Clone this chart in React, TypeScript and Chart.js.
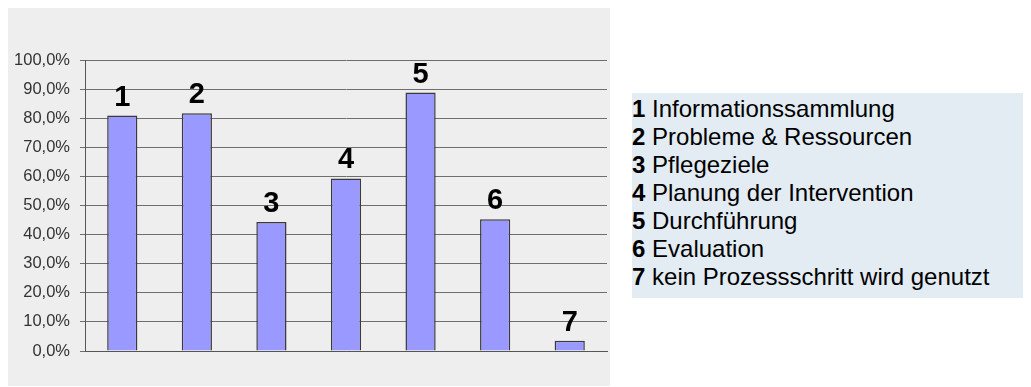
import React, { useEffect, useRef } from "react";
import { Chart, registerables } from "chart.js";

Chart.register(...registerables);

const categories = ["1", "2", "3", "4", "5", "6", "7"];
const categoryNames = [
  "Informationssammlung",
  "Probleme & Ressourcen",
  "Pflegeziele",
  "Planung der Intervention",
  "Durchführung",
  "Evaluation",
  "kein Prozessschritt wird genutzt",
];
const values = [80.9, 81.7, 44.3, 59.3, 88.8, 45.3, 3.5];
const tickLabels = [
  "0,0%", "10,0%", "20,0%", "30,0%", "40,0%", "50,0%",
  "60,0%", "70,0%", "80,0%", "90,0%", "100,0%",
];

const FONT = '"Liberation Sans", Arial, Helvetica, sans-serif';

const barLabelPlugin = {
  id: "barLabels",
  afterDatasetsDraw(chart: any) {
    const ctx = chart.ctx;
    const meta = chart.getDatasetMeta(0);
    ctx.save();
    ctx.font = `bold 29px ${FONT}`;
    ctx.fillStyle = "#000000";
    ctx.textAlign = "center";
    ctx.textBaseline = "alphabetic";
    meta.data.forEach((bar: any, i: number) => {
      ctx.fillText(categories[i], bar.x, bar.y - 10);
    });
    ctx.restore();
  },
};

export default function App() {
  const canvasRef = useRef<HTMLCanvasElement | null>(null);

  useEffect(() => {
    if (!canvasRef.current) return;
    const chart = new Chart(canvasRef.current, {
      type: "bar",
      data: {
        labels: categories,
        datasets: [
          {
            data: values,
            backgroundColor: "#9999ff",
            borderColor: "#3a3a3a",
            borderWidth: 1.5,
            barPercentage: 0.405,
            categoryPercentage: 1.0,
          },
        ],
      },
      options: {
        animation: false,
        responsive: true,
        maintainAspectRatio: false,
        layout: { padding: { top: 52, bottom: 35, left: 0, right: 3 } },
        plugins: {
          legend: { display: false },
          tooltip: { enabled: false },
          title: { display: false },
        },
        scales: {
          x: {
            grid: { display: false, drawTicks: false },
            ticks: { display: false },
            border: { display: true, color: "#555555", width: 1 },
          },
          y: {
            min: 0,
            max: 100,
            afterFit(scale: any) {
              scale.width = 77;
            },
            ticks: {
              stepSize: 10,
              padding: 10,
              color: "#333333",
              font: { family: FONT, size: 16.5 },
              callback: (_v: any, index: number) => tickLabels[index],
            },
            grid: {
              color: "#6e6e6e",
              lineWidth: 1,
              drawTicks: true,
              tickLength: 5,
            },
            border: { display: true, color: "#555555", width: 1 },
          },
        },
      },
      plugins: [barLabelPlugin],
    });
    return () => chart.destroy();
  }, []);

  return (
    <div style={{ position: "relative", width: 1023, height: 379 }}>
      <div
        style={{
          position: "absolute",
          left: 0,
          top: 0,
          width: 602,
          height: 378,
          background: "#eeeeee",
        }}
      >
        <canvas ref={canvasRef} />
      </div>
      <div
        style={{
          position: "absolute",
          left: 624,
          top: 85,
          width: 398,
          height: 205,
          boxSizing: "border-box",
          paddingTop: 1.5,
          background: "#e3ebf3",
          fontFamily: FONT,
          fontSize: 24,
          lineHeight: "28px",
          color: "#000000",
          whiteSpace: "nowrap",
        }}
      >
        {categories.map((c, i) => (
          <div key={c}>
            <b>{c}</b> {categoryNames[i]}
          </div>
        ))}
      </div>
    </div>
  );
}
